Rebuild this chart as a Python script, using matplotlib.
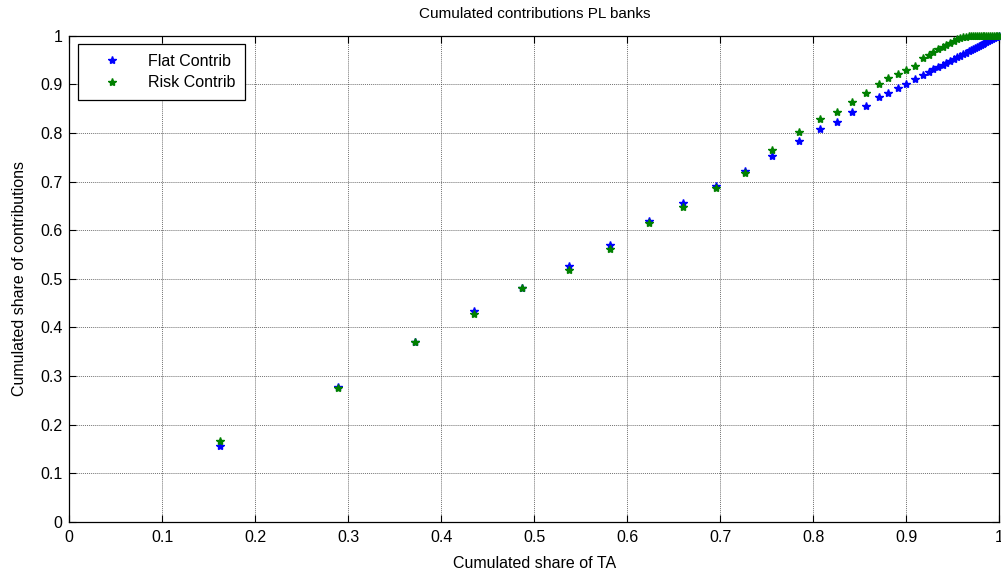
import matplotlib
matplotlib.use("Agg")
import matplotlib.pyplot as plt

plt.rcParams['font.family'] = ['Liberation Sans', 'DejaVu Sans']

# cumulated share of total assets (banks sorted by size)
share_ta = [0.162, 0.289, 0.372, 0.435, 0.487, 0.537, 0.581, 0.623, 0.660, 0.695,
            0.727, 0.756, 0.785, 0.807, 0.826, 0.842, 0.857, 0.871, 0.880, 0.891,
            0.900, 0.909, 0.918, 0.924, 0.929, 0.934, 0.939, 0.943, 0.947, 0.951,
            0.955, 0.958, 0.961, 0.964, 0.967, 0.970, 0.972, 0.974, 0.976, 0.978,
            0.980, 0.982, 0.984, 0.986, 0.988, 0.990, 0.992, 0.994, 0.996, 0.998,
            1.000]

flat_contrib = [0.156, 0.278, 0.371, 0.433, 0.481, 0.527, 0.570, 0.619, 0.657, 0.691,
                0.722, 0.753, 0.784, 0.808, 0.823, 0.843, 0.856, 0.873, 0.882, 0.892,
                0.900, 0.911, 0.920, 0.926, 0.931, 0.936, 0.940, 0.944, 0.948, 0.952,
                0.956, 0.959, 0.962, 0.965, 0.968, 0.971, 0.973, 0.975, 0.977, 0.979,
                0.981, 0.983, 0.985, 0.987, 0.989, 0.991, 0.993, 0.995, 0.997, 0.998,
                1.000]

risk_contrib = [0.167, 0.276, 0.371, 0.428, 0.481, 0.518, 0.561, 0.614, 0.647, 0.686,
                0.718, 0.764, 0.801, 0.829, 0.843, 0.864, 0.882, 0.901, 0.912, 0.921,
                0.929, 0.938, 0.954, 0.961, 0.967, 0.972, 0.977, 0.981, 0.985, 0.989,
                0.993, 0.995, 0.997, 0.998, 0.999, 0.999, 1.000, 1.000, 1.000, 1.000,
                1.000, 1.000, 1.000, 1.000, 1.000, 1.000, 1.000, 1.000, 1.000, 1.000,
                1.000]

ticks = [0, 0.1, 0.2, 0.3, 0.4, 0.5, 0.6, 0.7, 0.8, 0.9, 1]
tick_labels = ['0', '0.1', '0.2', '0.3', '0.4', '0.5', '0.6', '0.7', '0.8', '0.9', '1']

fig = plt.figure(figsize=(10.01, 5.75), dpi=100)
ax = fig.add_axes([0.0692, 0.0922, 0.9291, 0.8457])

ax.plot(share_ta, flat_contrib, linestyle='none', marker='*', markersize=6,
        color='#0000ff', mec='#0000ff', label='Flat Contrib', clip_on=False, zorder=3)
ax.plot(share_ta, risk_contrib, linestyle='none', marker='*', markersize=6,
        color='#008000', mec='#008000', label='Risk Contrib', clip_on=False, zorder=4)

ax.set_xlim(0, 1)
ax.set_ylim(0, 1)
ax.set_xticks(ticks)
ax.set_xticklabels(tick_labels)
ax.set_yticks(ticks)
ax.set_yticklabels(tick_labels)
ax.tick_params(direction='in', length=5, width=0.8, labelsize=11.5,
               top=True, right=True, colors='k')
ax.tick_params(axis='x', pad=6)
ax.tick_params(axis='y', pad=5)
ax.grid(True, color='#444444', linestyle=(0, (1, 1)), linewidth=0.7, alpha=0.75)
for s in ax.spines.values():
    s.set_linewidth(0.9)

ax.set_title('Cumulated contributions PL banks', fontsize=11, pad=13)
ax.set_xlabel('Cumulated share of TA', fontsize=11.5, labelpad=8)
ax.set_ylabel('Cumulated share of contributions', fontsize=11.5, labelpad=9)

leg = ax.legend(loc='upper left', bbox_to_anchor=(0.0095, 0.982), fontsize=11.5,
                fancybox=False, edgecolor='k', framealpha=1, borderpad=0.6,
                handlelength=3.0, handletextpad=0.75, labelspacing=0.4,
                borderaxespad=0)
leg.get_frame().set_linewidth(0.9)

fig.savefig('out.png', dpi=100)
